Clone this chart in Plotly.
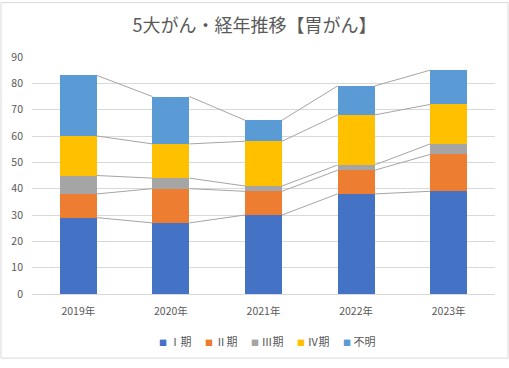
import plotly.graph_objects as go

years = ["2019年", "2020年", "2021年", "2022年", "2023年"]
stage1 = [29, 27, 30, 38, 39]
stage2 = [9, 13, 9, 9, 14]
stage3 = [7, 4, 2, 2, 4]
stage4 = [15, 13, 17, 19, 15]
unknown = [23, 18, 8, 11, 13]
series_names = ["Ⅰ期", "Ⅱ期", "Ⅲ期", "Ⅳ期", "不明"]
colors = ["#4472C4", "#ED7D31", "#A5A5A5", "#FFC000", "#5B9BD5"]
series = [stage1, stage2, stage3, stage4, unknown]

BAR_W = 0.4
FONT = "Noto Sans CJK JP, Noto Sans, sans-serif"
xs = list(range(len(years)))

fig = go.Figure()

# series lines (Excel-style) connecting cumulative tops
cum = [0] * len(years)
for vals in series:
    cum = [c + v for c, v in zip(cum, vals)]
    lx, ly = [], []
    for i in range(len(years) - 1):
        lx += [xs[i] + BAR_W / 2, xs[i + 1] - BAR_W / 2, None]
        ly += [cum[i], cum[i + 1], None]
    fig.add_trace(go.Scatter(x=lx, y=ly, mode="lines", line=dict(color="#A5A5A5", width=1),
                             showlegend=False, hoverinfo="skip"))

for name, vals, col in zip(series_names, series, colors):
    fig.add_trace(go.Bar(x=xs, y=vals, name=name, marker=dict(color=col, line=dict(width=0)),
                         width=BAR_W, showlegend=False))

# compact legend entries: coloured square glyph inside the label text
n = len(series_names)
for k, (name, col) in enumerate(zip(series_names, colors)):
    label = f"<span style='font-size:8px;color:{col}'>■</span> {name}"
    fig.add_trace(go.Scatter(x=[None], y=[None], mode="markers", name=label,
                             legendwidth=40 if k == n - 1 else None,
                             marker=dict(size=1, color="rgba(0,0,0,0)")))

fig.update_layout(
    width=509, height=368,
    barmode="stack",
    margin=dict(l=32, r=14, t=57, b=67),
    paper_bgcolor="white", plot_bgcolor="white",
    font=dict(family=FONT, color="#595959", size=10),
    title=dict(text="5大がん・経年推移【胃がん】", x=0.5, xanchor="center", y=0.93, yanchor="middle",
               font=dict(family=FONT, size=18, color="#595959")),
    legend=dict(orientation="h", x=(119 - 32) / 463, xanchor="left", y=-0.2, yanchor="middle",
                font=dict(size=11, color="#595959"), traceorder="normal",
                itemwidth=30, entrywidth=1, entrywidthmode="pixels", tracegroupgap=0),
    showlegend=True,
    xaxis=dict(tickvals=xs, ticktext=years, range=[-0.5, len(years) - 0.5],
               showgrid=False, showline=True, linecolor="#D9D9D9", linewidth=1,
               ticks="", ticklabelstandoff=7, tickfont=dict(size=10.5, color="#595959"),
               automargin=False),
    yaxis=dict(range=[0, 90], dtick=10, showgrid=True, gridcolor="#D9D9D9", gridwidth=1,
               zeroline=False, showline=False, ticks="", automargin=False, ticklabelstandoff=8,
               tickfont=dict(size=10.5, color="#595959")),
    shapes=[dict(type="rect", xref="paper", yref="paper", x0=-31/463, x1=1+13/463,
                 y0=-66/244, y1=1+56/244, line=dict(color="#D9D9D9", width=1))],
)

fig.write_html(
    "out.html",
    config={"displayModeBar": False},
    post_script=(
        "document.documentElement.style.margin='0';"
        "document.documentElement.style.overflow='hidden';"
        "document.body.style.margin='0';"
        "document.body.style.overflow='hidden';"
    ),
)
